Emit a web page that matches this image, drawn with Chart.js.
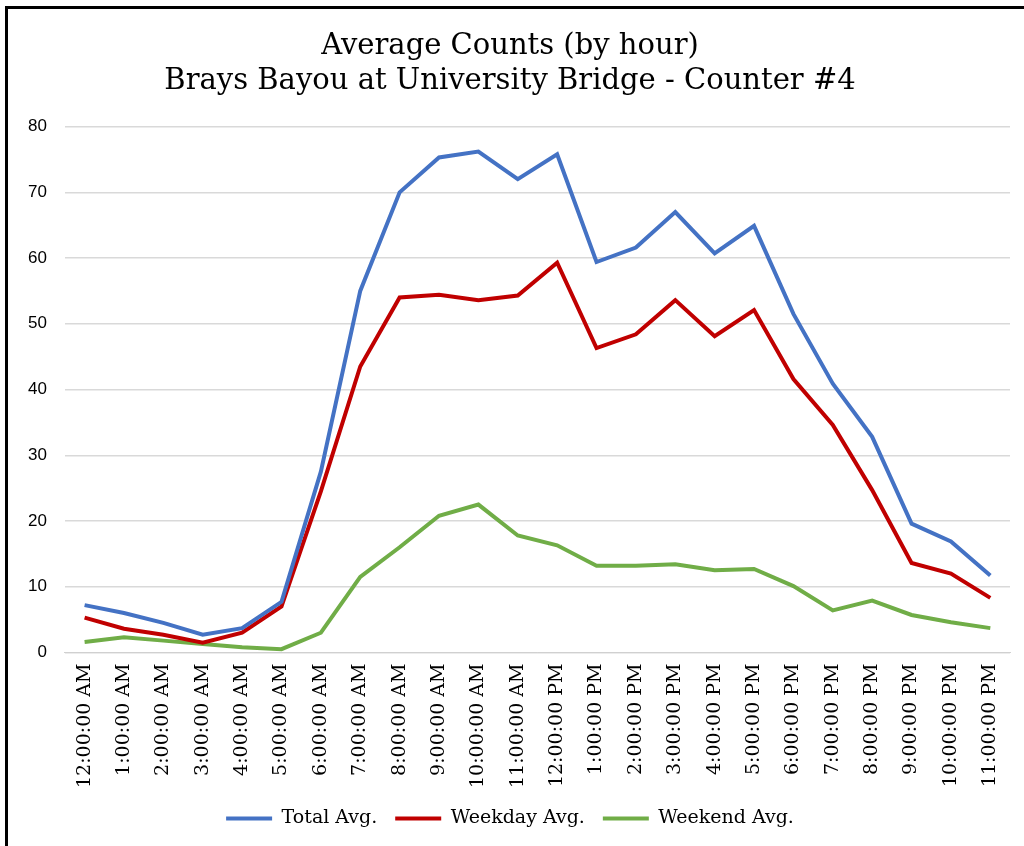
<!DOCTYPE html>
<html>
<head>
<meta charset="utf-8">
<script src="https://cdn.jsdelivr.net/npm/chart.js@4"></script>
<style>
  html, body { margin: 0; padding: 0; background: #fff; }
  #wrap { position: relative; width: 1024px; height: 846px; }
  #frame { position: absolute; left: 5px; top: 6px; width: 1030px; height: 860px;
           border-left: 3px solid #000; border-top: 3px solid #000; pointer-events: none; }
</style>
</head>
<body>
<div id="wrap">
  <canvas id="chartLine" width="1024" height="846"></canvas>
  <div id="frame"></div>
</div>
<script>
const hours = [
  "12:00:00 AM", "1:00:00 AM", "2:00:00 AM", "3:00:00 AM", "4:00:00 AM", "5:00:00 AM",
  "6:00:00 AM", "7:00:00 AM", "8:00:00 AM", "9:00:00 AM", "10:00:00 AM", "11:00:00 AM",
  "12:00:00 PM", "1:00:00 PM", "2:00:00 PM", "3:00:00 PM", "4:00:00 PM", "5:00:00 PM",
  "6:00:00 PM", "7:00:00 PM", "8:00:00 PM", "9:00:00 PM", "10:00:00 PM", "11:00:00 PM"
];
const totalAvg = [7.2, 6.0, 4.5, 2.7, 3.7, 7.7, 27.5, 55, 70, 75.3, 76.2, 72,
  75.8, 59.4, 61.6, 67, 60.7, 64.9, 51.5, 40.9, 32.8, 19.6, 16.9, 11.7];
const weekdayAvg = [5.3, 3.6, 2.7, 1.5, 3.0, 7.0, 24.5, 43.5, 54, 54.4, 53.6, 54.3,
  59.3, 46.3, 48.4, 53.6, 48.1, 52.1, 41.6, 34.6, 24.7, 13.6, 12, 8.3];
const weekendAvg = [1.6, 2.3, 1.8, 1.3, 0.8, 0.5, 3.0, 11.5, 16, 20.8, 22.5, 17.8,
  16.3, 13.2, 13.2, 13.4, 12.5, 12.7, 10.1, 6.4, 7.9, 5.7, 4.6, 3.7];

const serif = "'DejaVu Serif', serif";

var ctxLine = document.getElementById("chartLine");

new Chart(ctxLine, {
  type: "line",
  data: {
    labels: hours,
    datasets: [
      { label: "Total Avg.", data: totalAvg, borderColor: "#4472C4", backgroundColor: "#4472C4", borderWidth: 4 },
      { label: "Weekday Avg.", data: weekdayAvg, borderColor: "#C00000", backgroundColor: "#C00000", borderWidth: 4 },
      { label: "Weekend Avg.", data: weekendAvg, borderColor: "#70AD47", backgroundColor: "#70AD47", borderWidth: 4 },
    ],
  },
  options: {
    responsive: false,
    animation: false,
    layout: { padding: { top: 14, right: 14, left: 10, bottom: 8 } },
    elements: {
      line: { tension: 0 },
      point: { radius: 0 },
    },
    scales: {
      x: {
        offset: true,
        grid: { display: false },
        border: { display: true, color: "#d0d0d0", width: 1 },
        ticks: {
          minRotation: 90,
          maxRotation: 90,
          autoSkip: false,
          color: "#000",
          padding: 3,
          font: { family: serif, size: 19 },
        },
      },
      y: {
        min: 0,
        max: 80,
        ticks: {
          stepSize: 10,
          color: "#000",
          padding: 18,
          font: { family: "'Liberation Sans', Arial, sans-serif", size: 17 },
        },
        grid: { color: "#d9d9d9", lineWidth: 1.5, drawTicks: false },
        border: { display: false },
      },
    },
    plugins: {
      title: {
        display: true,
        text: ["Average Counts (by hour)", "Brays Bayou at University Bridge - Counter #4"],
        color: "#000",
        font: { family: serif, size: 29, weight: "normal", lineHeight: 1.2 },
        padding: { top: 15, bottom: 28 },
      },
      legend: {
        position: "bottom",
        labels: {
          usePointStyle: true,
          pointStyle: "line",
          pointStyleWidth: 46,
          boxWidth: 46,
          color: "#000",
          padding: 18,
          font: { family: serif, size: 19 },
        },
      },
      tooltip: { enabled: false },
    },
  },
});
</script>
</body>
</html>
